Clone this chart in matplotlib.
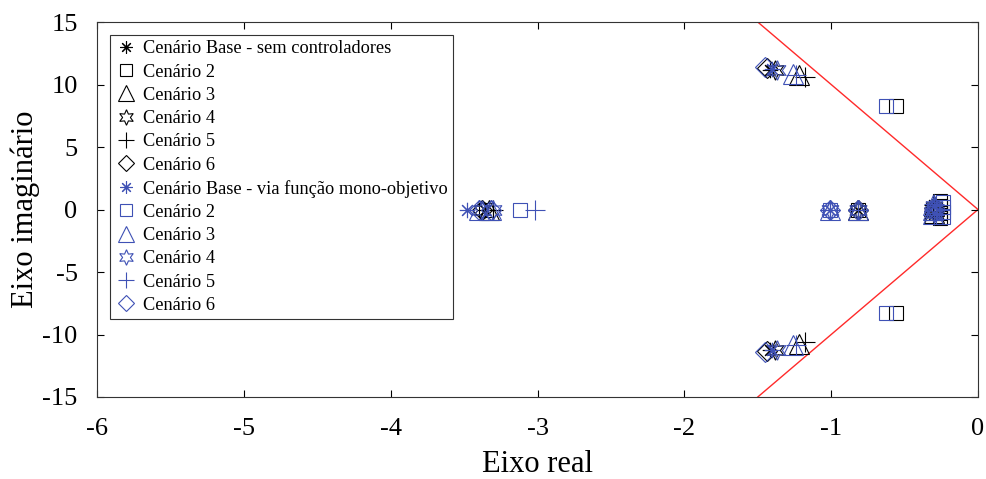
import matplotlib
matplotlib.use("agg")
import matplotlib.pyplot as plt

plt.rcParams['font.family'] = ['Liberation Serif', 'DejaVu Serif']
plt.rcParams['axes.unicode_minus'] = False

# polos - sem controladores
base_re = [-1.42, -1.42, -3.36, -0.82, -0.30, -0.30]
base_im = [11.2, -11.2, 0.0, 0.0, 0.35, -0.35]
c2_re = [-0.56, -0.56, -3.35, -0.82, -0.26, -0.26, -0.26, -0.26]
c2_im = [8.3, -8.3, 0.0, 0.0, 0.25, -0.25, 0.65, -0.65]
c3_re = [-1.22, -1.22, -3.33, -0.82, -0.30, -0.30, -0.30]
c3_im = [10.75, -10.75, 0.0, 0.0, 0.0, 0.3, -0.3]
c4_re = [-1.38, -1.38, -3.38, -0.82, -0.30, -0.30]
c4_im = [11.2, -11.2, 0.0, 0.0, 0.2, -0.2]
c5_re = [-1.18, -1.18, -3.30, -0.82, -0.30, -0.30]
c5_im = [10.6, -10.6, 0.0, 0.0, 0.4, -0.4]
c6_re = [-1.44, -1.44, -3.38, -0.82, -0.30, -0.30]
c6_im = [11.35, -11.35, 0.0, 0.0, 0.1, -0.1]

# polos - via funcao mono-objetivo
mbase_re = [-1.40, -1.40, -3.48, -1.01, -0.30, -0.30]
mbase_im = [11.25, -11.25, 0.0, 0.0, 0.3, -0.3]
m2_re = [-0.63, -0.63, -3.12, -1.01, -0.24, -0.24, -0.24, -0.24]
m2_im = [8.3, -8.3, 0.0, 0.0, 0.2, -0.2, 0.6, -0.6]
m3_re = [-1.26, -1.26, -3.40, -3.32, -1.01, -0.82, -0.31, -0.31, -0.31]
m3_im = [10.85, -10.85, 0.0, 0.0, 0.0, 0.0, 0.0, 0.35, -0.35]
m4_re = [-1.37, -1.37, -3.38, -3.30, -1.01, -0.82, -0.30, -0.30]
m4_im = [11.2, -11.2, 0.0, 0.0, 0.0, 0.0, 0.25, -0.25]
m5_re = [-1.24, -1.24, -3.02, -1.01, -0.82, -0.30, -0.30]
m5_im = [10.8, -10.8, 0.0, 0.0, 0.0, 0.45, -0.45]
m6_re = [-1.45, -1.45, -3.40, -3.32, -1.01, -0.82, -0.30, -0.30]
m6_im = [11.4, -11.4, 0.0, 0.0, 0.0, 0.0, 0.15, -0.15]

labels_black = ["Cenário Base - sem controladores", "Cenário 2", "Cenário 3",
                "Cenário 4", "Cenário 5", "Cenário 6"]
labels_blue = ["Cenário Base - via função mono-objetivo", "Cenário 2", "Cenário 3",
               "Cenário 4", "Cenário 5", "Cenário 6"]

# limite de amortecimento
zeta_re = [-1.5, 0.0, -1.5]
zeta_im = [15.0, 0.0, -15.0]

asterisk = (8, 2, 0)
hexagram = (6, 1, 0)
markers = [asterisk, 's', '^', hexagram, '+', 'D']
sizes = [11, 10, 14, 14, 15, 10]

blue = '#3f51b5'

fig = plt.figure(figsize=(9.87, 4.79), dpi=100)
ax = fig.add_axes([0.0983, 0.1712, 0.8926, 0.7828])

black_re = [base_re, c2_re, c3_re, c4_re, c5_re, c6_re]
black_im = [base_im, c2_im, c3_im, c4_im, c5_im, c6_im]
blue_re = [mbase_re, m2_re, m3_re, m4_re, m5_re, m6_re]
blue_im = [mbase_im, m2_im, m3_im, m4_im, m5_im, m6_im]

for i in range(6):
    ax.plot(black_re[i], black_im[i], linestyle='none', marker=markers[i],
            ms=sizes[i], mfc='none', mec='black', mew=0.8, label=labels_black[i])
for i in range(6):
    ax.plot(blue_re[i], blue_im[i], linestyle='none', marker=markers[i],
            ms=sizes[i], mfc='none', mec=blue, mew=0.8, label=labels_blue[i])

ax.plot(zeta_re, zeta_im, color='#ff2a2a', lw=1.0, zorder=1)

ax.set_xlim(-6, 0)
ax.set_ylim(-15, 15)
ax.set_xticks([-6, -5, -4, -3, -2, -1, 0])
ax.set_yticks([-15, -10, -5, 0, 5, 10, 15])
ax.tick_params(direction='in', top=True, right=True, length=5, width=0.8,
               labelsize=19)
ax.tick_params(axis='x', pad=15)
ax.tick_params(axis='y', pad=14)
for s in ax.spines.values():
    s.set_linewidth(0.8)
    s.set_color('#333333')

ax.set_xlabel("Eixo real", fontsize=22, labelpad=7)
ax.set_ylabel("Eixo imaginário", fontsize=22, labelpad=2)

leg = ax.legend(loc='upper left', fontsize=13.2, handletextpad=0.3,
                handlelength=1.2, labelspacing=0.34, borderaxespad=0.7,
                borderpad=0.3, markerscale=0.8, fancybox=False, framealpha=1,
                edgecolor='#333333')
leg.get_frame().set_linewidth(0.8)

plt.savefig("out.png", facecolor='w')
